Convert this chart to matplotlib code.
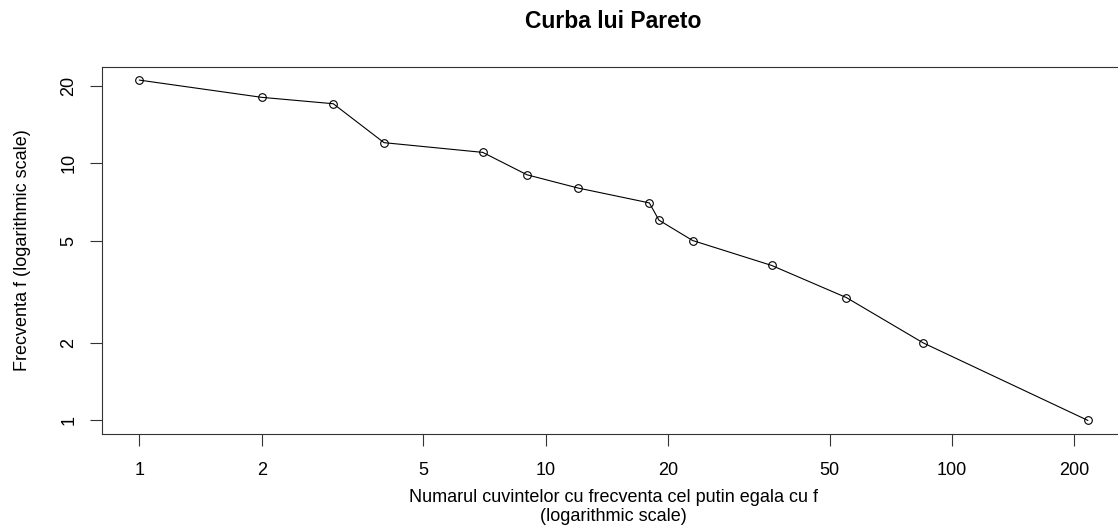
import numpy as np
import matplotlib
matplotlib.use("Agg")
import matplotlib.pyplot as plt
from matplotlib.ticker import FixedLocator, FixedFormatter, NullLocator

plt.rcParams['font.family'] = ['Liberation Sans', 'DejaVu Sans']

# data
nr_cuvinte = [1, 2, 3, 4, 7, 9, 12, 18, 19, 23, 36, 55, 85, 216]
frecventa = [21, 18, 17, 12, 11, 9, 8, 7, 6, 5, 4, 3, 2, 1]

x_ticks = [1, 2, 5, 10, 20, 50, 100, 200]
y_ticks = [1, 2, 5, 10, 20]

W, H = 1118, 532
fig = plt.figure(figsize=(W / 100, H / 100), dpi=100)

# plot region in pixels (right edge runs off the picture, as in the reference)
left, right, top, bottom = 101.5, 1125.7, 66.5, 434.0
ax = fig.add_axes([left / W, 1 - bottom / H, (right - left) / W, (bottom - top) / H])

ax.plot(nr_cuvinte, frecventa, color='black', lw=0.8, marker='o',
        markersize=5.5, markerfacecolor='none', markeredgecolor='black',
        markeredgewidth=0.8)
ax.set_xscale('log')
ax.set_yscale('log')

# R style 4% extension in log space
lx = np.log10([min(nr_cuvinte), max(nr_cuvinte)])
ly = np.log10([min(frecventa), max(frecventa)])
ex = 0.04 * (lx[1] - lx[0])
ey = 0.04 * (ly[1] - ly[0])
ax.set_xlim(10 ** (lx[0] - ex), 10 ** (lx[1] + ex))
ax.set_ylim(10 ** (ly[0] - ey), 10 ** (ly[1] + ey))

ax.xaxis.set_major_locator(FixedLocator(x_ticks))
ax.xaxis.set_major_formatter(FixedFormatter([str(t) for t in x_ticks]))
ax.xaxis.set_minor_locator(NullLocator())
ax.yaxis.set_major_locator(FixedLocator(y_ticks))
ax.yaxis.set_major_formatter(FixedFormatter([str(t) for t in y_ticks]))
ax.yaxis.set_minor_locator(NullLocator())

ax.tick_params(axis='both', length=8.5, width=0.8, color='#333333',
               labelsize=13, pad=12)
ax.tick_params(axis='y', pad=9)
for lab in ax.get_yticklabels():
    lab.set_rotation(90)
    lab.set_va('center')

for sp in ax.spines.values():
    sp.set_linewidth(0.8)
    sp.set_color('#333333')

cx = (left + right) / 2 / W
fig.text(cx, 1 - 21 / H, 'Curba lui Pareto', ha='center', va='center',
         fontsize=16.5, fontweight='bold')
fig.text(cx, 1 - 507 / H,
         'Numarul cuvintelor cu frecventa cel putin egala cu f\n(logarithmic scale)',
         ha='center', va='center', fontsize=13, linespacing=1.1)
fig.text(23 / W, 1 - (top + bottom) / 2 / H, 'Frecventa f (logarithmic scale)',
         ha='center', va='center', rotation=90, fontsize=13)

fig.savefig('out.png', dpi=100)
